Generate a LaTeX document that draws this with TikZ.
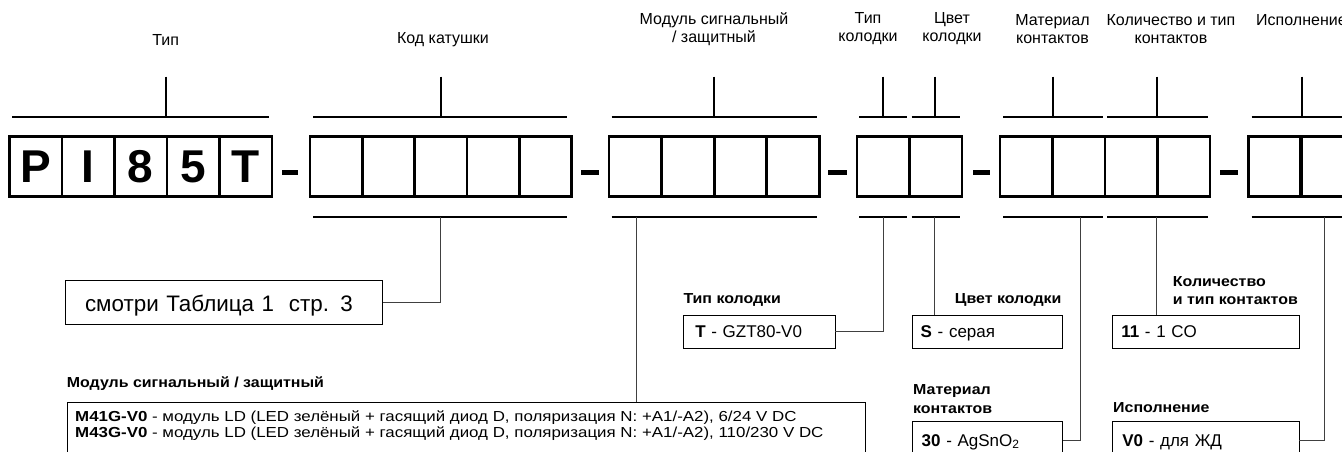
\documentclass[tikz,border=0pt]{standalone}
\usepackage{fontspec}
\setmainfont{Liberation Sans}
\newfontfamily\hdrfont[FakeStretch=1.1]{Liberation Sans}
\newfontfamily\modfont[FakeStretch=1.165]{Liberation Sans}
\begin{document}
\begin{tikzpicture}[x=1pt,y=-1pt,
  cell/.style={draw, line width=2.7pt, minimum width=52.5pt, minimum height=60pt, inner sep=0pt, outer sep=0pt, anchor=north west, font=\fontsize{46}{46}\selectfont\bfseries},
  dashbar/.style={line width=5pt},
  brk/.style={line width=2pt},
  lead/.style={line width=1pt, black!75},
  toplbl/.style={font=\fontsize{16}{18}\selectfont, align=center, inner sep=0pt},
  hdr/.style={font=\hdrfont\fontsize{14.5}{18.3}\selectfont\bfseries, inner sep=0pt, align=left},
  infobox/.style={draw, line width=1pt, anchor=north west, inner ysep=0pt, outer sep=0pt, align=left, text height=12.2pt, text depth=0pt, font=\fontsize{17}{20}\selectfont},
  modline/.style={anchor=base west, inner sep=0pt, font=\modfont\fontsize{14.5}{16}\selectfont},
]
\useasboundingbox (0,0) rectangle (1342,452);
\clip (0,0) rectangle (1342,452);

% code cells
\foreach \i/\ch in {1/P,2/I,3/8,4/5,5/T}
  \node[cell] (a\i) at ({9.5+(\i-1)*52.5},136.7) {\ch};
\foreach \i in {1,...,5}
  \node[cell] (b\i) at ({310+(\i-1)*52.3},136.7) {};
\foreach \i in {1,...,4}
  \node[cell] (c\i) at ({609+(\i-1)*52.6},136.7) {};
\foreach \i in {1,2}
  \node[cell] (d\i) at ({857+(\i-1)*52.6},136.7) {};
\foreach \i in {1,...,4}
  \node[cell] (e\i) at ({1000+(\i-1)*52.5},136.7) {};
\foreach \i in {1,2}
  \node[cell] (f\i) at ({1248.3+(\i-1)*53.3},136.7) {};

% dashes
\foreach \l/\r in {282/298, 581/599, 828/847, 973/990, 1220/1238}
  \draw[dashbar] (\l,172.7) -- (\r,172.7);

% top labels
\node[toplbl] (lt1) at (165.7,40) {Тип};
\node[toplbl] (lt2) at (443,40) {Код катушки};
\node[toplbl] (lt3) at (714,29) {Модуль сигнальный\\/ защитный};
\node[toplbl] (lt4) at (868,29) {Тип\\колодки};
\node[toplbl] (lt5) at (952,29) {Цвет\\колодки};
\node[toplbl] (lt6) at (1052.5,29) {Материал\\контактов};
\node[toplbl] (lt7) at (1171,29) {Количество и тип\\контактов};
\node[toplbl, anchor=west] (lt8) at (1256,20) {Исполнение};

% top brackets
\foreach \l/\r/\t in {12.3/269.3/165.7, 313/567.3/440.7, 611.7/816.7/714.3, 859.3/907.3/883.3, 911.7/960/935, 1003.3/1103.3/1053.3, 1107.3/1208.3/1156.7, 1251.7/1360/1301.7}
  {\draw[brk] (\l,116.7) -- (\r,116.7);
   \draw[brk] (\t,76.7) -- (\t,116.7);}

% bottom brackets
\foreach \l/\r in {313/567.3, 611.7/816.7, 859.3/907.3, 911.7/960, 1003.3/1103.3, 1107.3/1208.3, 1251.7/1360}
  \draw[brk] (\l,216.7) -- (\r,216.7);

% bracket tick origins
\coordinate (q2) at (440.7,216.7);
\coordinate (q3) at (636,216.7);
\coordinate (q4) at (883.3,216.7);
\coordinate (q5) at (934,216.7);
\coordinate (q6) at (1080,216.7);
\coordinate (q7) at (1156,216.7);
\coordinate (q8) at (1324,216.7);

% boxes
\node[draw, line width=1pt, anchor=north west, minimum height=44pt, inner ysep=0pt, inner xsep=19.3pt, text width=278.4pt, align=left, text height=19pt, text depth=0pt, outer sep=0pt, font=\fontsize{22.4}{24}\selectfont] (see) at (65.7,280) {смотри Таблица 1\ \ стр. 3};

\node[hdr, anchor=west] (htip) at (683.3,300) {Тип колодки};
\node[infobox, minimum height=33.3pt, inner xsep=12pt, text width=127.7pt] (tip) at (683.3,315) {\textbf{T} - GZT80-V0};

\node[hdr, anchor=east] (hcvet) at (1061.7,300) {Цвет колодки};
\node[infobox, minimum height=33.3pt, inner xsep=8pt, text width=134pt] (cvet) at (912.7,315) {\textbf{S} - серая};

\node[hdr, anchor=west] (hkol) at (1172.7,290.8) {Количество\\и тип контактов};
\node[infobox, minimum height=33.3pt, inner xsep=9pt, text width=168.7pt] (kol) at (1112.3,315) {\textbf{11} - 1 CO};

\node[hdr, anchor=west] (hmat) at (913,399) {Материал\\контактов};
\node[infobox, minimum height=38pt, inner xsep=9pt, text width=132pt] (mat) at (912.7,421.7) {\textbf{30} - AgSnO\raisebox{-1.5pt}{\fontsize{12}{12}\selectfont 2}};

\node[hdr, anchor=west] (hisp) at (1113,408) {Исполнение};
\node[infobox, minimum height=38pt, inner xsep=10pt, text width=166.7pt] (isp) at (1112.3,421.7) {\textbf{V0} - для ЖД};

\node[hdr, anchor=west] (hmod) at (66.7,384) {Модуль сигнальный / защитный};
\node[draw, line width=1pt, anchor=north west, minimum width=798pt, minimum height=80pt, inner sep=0pt] (mod) at (67,401.7) {};
\node[modline] (m1) at (75,421.3) {\textbf{M41G-V0} - модуль LD (LED зелёный + гасящий диод D, поляризация N: +A1/-A2), 6/24 V DC};
\node[modline] (m2) at (75,437) {\textbf{M43G-V0} - модуль LD (LED зелёный + гасящий диод D, поляризация N: +A1/-A2), 110/230 V DC};

% leaders
\draw[lead] (q2) |- (see.east);
\draw[lead] (q3) -- (q3 |- mod.north);
\draw[lead] (q4) |- (tip.east);
\draw[lead] (q5) -- (q5 |- cvet.north);
\draw[lead] (q6) |- (mat.east);
\draw[lead] (q7) -- (q7 |- kol.north);
\draw[lead] (q8) |- (isp.east);
\end{tikzpicture}
\end{document}
